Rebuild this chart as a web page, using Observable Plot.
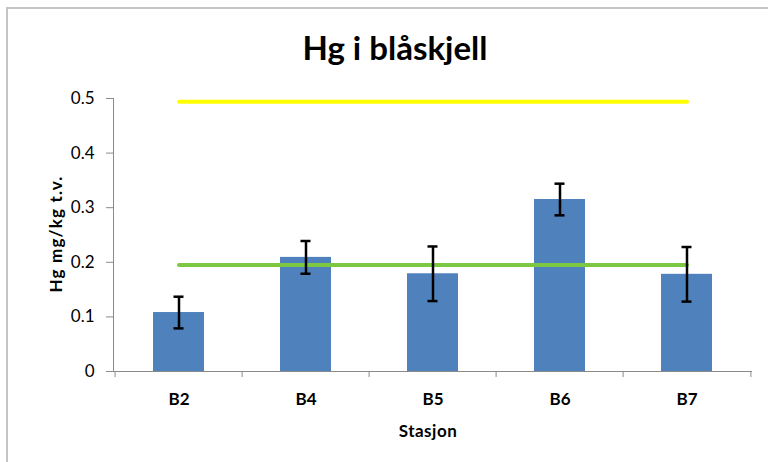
<!DOCTYPE html>
<html>
<head>
<meta charset="utf-8">
<script src="https://cdn.jsdelivr.net/npm/d3@7"></script>
<script src="https://cdn.jsdelivr.net/npm/@observablehq/plot@0.6"></script>
<style>
  html, body { margin: 0; padding: 0; background: #fff; overflow: hidden; }
  #wrap { position: relative; width: 768px; height: 462px; font-family: Lato, "Open Sans", sans-serif; }
  #border { position: absolute; left: 6px; top: 7px; width: 780px; height: 480px;
            border-left: 2px solid #c4c4c4; border-top: 2px solid #c4c4c4; }
  #chart { position: absolute; left: 0; top: 0; }
  .lbl { position: absolute; color: #000; font-weight: bold; white-space: nowrap; line-height: 1; }
  #title { left: 0; width: 790px; top: 31px; text-align: center; font-size: 33px; }
  #xlabel { left: 328px; width: 200px; top: 422px; text-align: center; font-size: 17px; letter-spacing: 0.5px; }
  #ylabel { left: 55px; top: 234px; font-size: 17px; letter-spacing: 1.2px; transform: translate(-50%, -50%) rotate(-90deg); }
</style>
</head>
<body>
<div id="wrap">
  <div id="border"></div>
  <div id="chart"></div>
  <div id="title" class="lbl">Hg i blåskjell</div>
  <div id="xlabel" class="lbl">Stasjon</div>
  <div id="ylabel" class="lbl">Hg mg/kg t.v.</div>
</div>
<script>
const stations = ["B2", "B4", "B5", "B6", "B7"];
const means = [0.108, 0.209, 0.179, 0.315, 0.178];
const errors = [0.029, 0.030, 0.050, 0.029, 0.050];
const yTicks = [0, 0.1, 0.2, 0.3, 0.4, 0.5];
const upperLimit = 0.494;   // yellow line
const lowerLimit = 0.195;   // green line

const data = stations.map((s, i) => ({station: s, mean: means[i], lo: means[i] - errors[i], hi: means[i] + errors[i]}));
const yellowLine = [stations[0], stations[stations.length - 1]].map(s => ({station: s, v: upperLimit}));
const greenLine = [stations[0], stations[stations.length - 1]].map(s => ({station: s, v: lowerLimit}));

const W = 768, H = 462, mL = 113, mR = 16, mT = 98, mB = 91;
const pIn = 0.6, pOut = 0.3;
const step = (W - mL - mR) / (stations.length - pIn + 2 * pOut);
const axisGray = "#8a8a8a";

const chart = Plot.plot({
  width: W, height: H,
  marginLeft: mL, marginRight: mR, marginTop: mT, marginBottom: mB,
  style: {fontFamily: "Lato, 'Open Sans', sans-serif", background: "transparent", overflow: "visible"},
  x: {type: "band", domain: stations, paddingInner: pIn, paddingOuter: pOut},
  y: {domain: [0, 0.5]},
  marks: [
    Plot.barY(data, {x: "station", y: "mean", fill: "#4f81bd"}),
    Plot.line(yellowLine, {x: "station", y: "v", stroke: "#ffff00", strokeWidth: 4}),
    Plot.line(greenLine, {x: "station", y: "v", stroke: "#7dc843", strokeWidth: 4}),
    Plot.ruleX(data, {x: "station", y1: "lo", y2: "hi", stroke: "#000", strokeWidth: 2.5}),
    Plot.tickY(data, {x: "station", y: "lo", stroke: "#000", strokeWidth: 2.5, inset: 20.5}),
    Plot.tickY(data, {x: "station", y: "hi", stroke: "#000", strokeWidth: 2.5, inset: 20.5}),
    Plot.frame({anchor: "left", stroke: axisGray}),
    Plot.ruleY([0], {stroke: axisGray}),
    Plot.axisY(yTicks, {tickSize: 7, text: null, stroke: axisGray, label: null}),
    Plot.axisY(yTicks, {tickSize: 0, tickPadding: 19, fontSize: 17, fill: "#000", label: null,
      style: "letter-spacing: 1.2px", tickFormat: d => d === 0 ? "0" : d.toFixed(1)}),
    Plot.axisX({tickSize: 6, text: null, dx: -step / 2, stroke: axisGray, label: null}),
    Plot.axisX([stations[stations.length - 1]], {tickSize: 6, text: null, dx: step / 2, stroke: axisGray, label: null}),
    Plot.axisX({tickSize: 0, tickPadding: 21, fontSize: 17, fontWeight: "bold", fill: "#000", label: null})
  ]
});
document.getElementById("chart").appendChild(chart);
</script>
</body>
</html>
